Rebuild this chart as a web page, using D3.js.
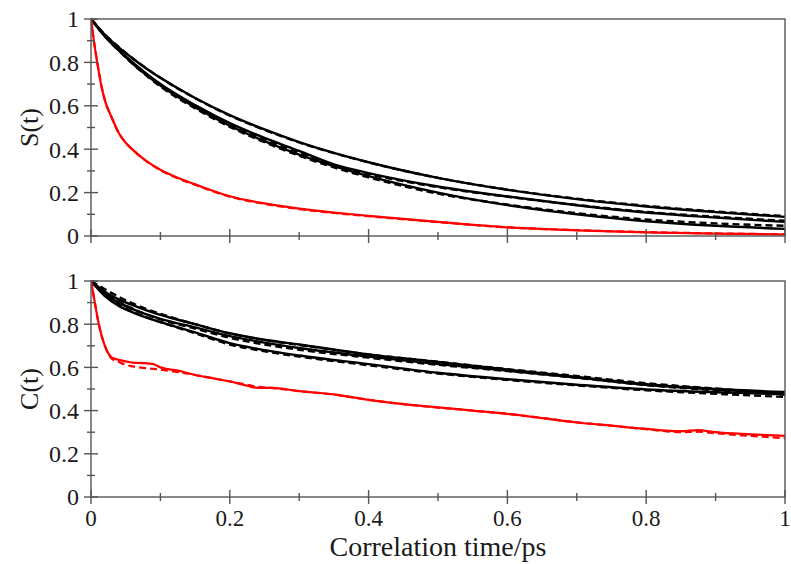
<!DOCTYPE html>
<html><head><meta charset="utf-8">
<script src="https://cdn.jsdelivr.net/npm/d3@7"></script>
<style>body{margin:0;background:#fff}svg{display:block}text{font-family:"Liberation Serif","DejaVu Serif",serif}</style></head>
<body>
<svg id="c" width="791" height="564"></svg>
<script>
// ---- tick data ----
const xMajor=[0,0.2,0.4,0.6,0.8,1];
const xMajorLabels=["0","0.2","0.4","0.6","0.8","1"];
const xMinor=[0.1,0.3,0.5,0.7,0.9];
const yMajor=[0,0.2,0.4,0.6,0.8,1];
const yMajorLabels=["0","0.2","0.4","0.6","0.8","1"];
const yMinor=[0.1,0.3,0.5,0.7,0.9];

// ---- S(t) panel ----
const tS=[0,0.02,0.04,0.06,0.08,0.1,0.15,0.2,0.25,0.3,0.35,0.4,0.5,0.6,0.7,0.8,0.9,1.0];
const sA =[1,0.927,0.869,0.818,0.771,0.729,0.636,0.557,0.491,0.433,0.383,0.340,0.268,0.213,0.170,0.136,0.110,0.088];
const sAd=[1,0.929,0.871,0.819,0.772,0.729,0.635,0.555,0.489,0.431,0.382,0.339,0.268,0.214,0.172,0.139,0.113,0.092];
const sB =[1,0.922,0.858,0.800,0.748,0.700,0.603,0.520,0.452,0.392,0.330,0.290,0.228,0.182,0.142,0.108,0.085,0.065];
const sBd=[1,0.923,0.857,0.798,0.745,0.696,0.597,0.512,0.444,0.385,0.324,0.285,0.225,0.181,0.143,0.111,0.089,0.070];
const sC =[1,0.920,0.855,0.795,0.742,0.693,0.593,0.508,0.437,0.375,0.322,0.276,0.200,0.142,0.100,0.068,0.047,0.033];
const sCd=[1,0.921,0.854,0.793,0.739,0.689,0.588,0.503,0.432,0.370,0.316,0.270,0.195,0.145,0.105,0.076,0.058,0.047];
const tSr=[0,0.005,0.01,0.015,0.02,0.03,0.04,0.05,0.06,0.08,0.1,0.125,0.15,0.2,0.25,0.3,0.35,0.4,0.5,0.6,0.7,0.8,0.9,1.0];
const sR =[1,0.88,0.78,0.69,0.625,0.545,0.475,0.43,0.398,0.345,0.305,0.268,0.238,0.183,0.15,0.126,0.108,0.093,0.065,0.04,0.026,0.017,0.011,0.007];
const sRd=[1,0.882,0.782,0.692,0.626,0.544,0.474,0.43,0.397,0.344,0.303,0.266,0.236,0.181,0.148,0.124,0.106,0.091,0.064,0.04,0.027,0.018,0.012,0.008];

// ---- C(t) panel ----
const tC=[0,0.02,0.04,0.06,0.08,0.1,0.15,0.2,0.25,0.3,0.4,0.5,0.6,0.7,0.8,0.9,1.0];
const cA =[1,0.95,0.915,0.888,0.864,0.843,0.8,0.758,0.728,0.706,0.66,0.625,0.59,0.556,0.522,0.5,0.486];
const cAd=[1,0.962,0.927,0.896,0.87,0.848,0.8,0.757,0.727,0.704,0.66,0.626,0.592,0.56,0.527,0.502,0.48];
const cB =[1,0.94,0.9,0.87,0.845,0.825,0.785,0.745,0.715,0.69,0.65,0.615,0.585,0.553,0.52,0.498,0.481];
const cBd=[1,0.945,0.905,0.872,0.845,0.822,0.78,0.737,0.706,0.682,0.645,0.612,0.583,0.552,0.518,0.494,0.474];
const cC =[1,0.93,0.885,0.855,0.83,0.81,0.762,0.712,0.68,0.655,0.615,0.575,0.545,0.52,0.498,0.485,0.476];
const cCd=[1,0.935,0.89,0.858,0.832,0.81,0.758,0.706,0.675,0.65,0.61,0.572,0.542,0.517,0.494,0.478,0.463];
const tCr=[0,0.005,0.01,0.015,0.02,0.025,0.03,0.04,0.05,0.06,0.075,0.09,0.1,0.125,0.15,0.175,0.2,0.225,0.24,0.26,0.3,0.35,0.4,0.45,0.5,0.55,0.6,0.65,0.7,0.75,0.8,0.85,0.875,0.9,0.95,1.0];
const cR =[1,0.91,0.82,0.75,0.7,0.665,0.645,0.635,0.628,0.622,0.62,0.615,0.6,0.585,0.565,0.55,0.535,0.515,0.505,0.505,0.49,0.475,0.45,0.43,0.415,0.4,0.385,0.365,0.345,0.33,0.315,0.305,0.31,0.3,0.29,0.283];
const cRd=[1,0.91,0.82,0.75,0.7,0.662,0.64,0.625,0.612,0.605,0.598,0.593,0.59,0.578,0.565,0.55,0.535,0.52,0.51,0.505,0.49,0.474,0.45,0.43,0.414,0.4,0.385,0.366,0.346,0.33,0.314,0.3,0.302,0.295,0.283,0.272];

const svg=d3.select("#c");
const left=91,right=785;
const x=d3.scaleLinear().domain([0,1]).range([left,right]);
const font="Liberation Serif";
const axisCol="#555";

const panels=[
  {top:19,bottom:236,label:"S(t)",showX:false,
   series:[
     {t:tS,v:sC,c:"#000",d:null},{t:tS,v:sCd,c:"#000",d:"7,4"},
     {t:tS,v:sB,c:"#000",d:null},{t:tS,v:sBd,c:"#000",d:"7,4"},
     {t:tS,v:sA,c:"#000",d:null},{t:tS,v:sAd,c:"#000",d:"7,4"},
     {t:tSr,v:sR,c:"#ff0000",d:null},{t:tSr,v:sRd,c:"#ff0000",d:"7,4"}]},
  {top:281,bottom:497,label:"C(t)",showX:true,
   series:[
     {t:tC,v:cC,c:"#000",d:null},{t:tC,v:cCd,c:"#000",d:"7,4"},
     {t:tC,v:cB,c:"#000",d:null},{t:tC,v:cBd,c:"#000",d:"7,4"},
     {t:tC,v:cA,c:"#000",d:null},{t:tC,v:cAd,c:"#000",d:"7,4"},
     {t:tCr,v:cR,c:"#ff0000",d:null},{t:tCr,v:cRd,c:"#ff0000",d:"7,4"}]}
];

panels.forEach(p=>{
  const y=d3.scaleLinear().domain([0,1]).range([p.bottom,p.top]);
  const g=svg.append("g");
  const line=d3.line().x(d=>x(d[0])).y(d=>y(d[1])).curve(d3.curveMonotoneX);
  const clipId="clip"+p.top;
  svg.append("clipPath").attr("id",clipId).append("rect")
    .attr("x",left).attr("y",p.top-2).attr("width",right-left).attr("height",p.bottom-p.top+2);
  const lg=g.append("g").attr("clip-path","url(#"+clipId+")");
  p.series.forEach(s=>{
    lg.append("path").attr("d",line(s.t.map((t,i)=>[t,s.v[i]])))
      .attr("fill","none").attr("stroke",s.c)
      .attr("stroke-width",s.c==="#000"?2.4:2.2)
      .attr("stroke-dasharray",s.d)
      .attr("stroke-linejoin","round");
  });
  g.append("rect").attr("x",left).attr("y",p.top).attr("width",right-left).attr("height",p.bottom-p.top)
    .attr("fill","none").attr("stroke",axisCol).attr("stroke-width",1.4);
  xMajor.forEach(v=>g.append("line").attr("x1",x(v)).attr("x2",x(v)).attr("y1",p.bottom-7).attr("y2",p.bottom+7)
    .attr("stroke",axisCol).attr("stroke-width",1.4));
  xMinor.forEach(v=>g.append("line").attr("x1",x(v)).attr("x2",x(v)).attr("y1",p.bottom-4).attr("y2",p.bottom+4)
    .attr("stroke",axisCol).attr("stroke-width",1.4));
  yMajor.forEach(v=>g.append("line").attr("x1",left-7).attr("x2",left+7).attr("y1",y(v)).attr("y2",y(v))
    .attr("stroke",axisCol).attr("stroke-width",1.4));
  yMinor.forEach(v=>g.append("line").attr("x1",left-4).attr("x2",left+4).attr("y1",y(v)).attr("y2",y(v))
    .attr("stroke",axisCol).attr("stroke-width",1.4));
  yMajor.forEach((v,i)=>g.append("text").attr("x",left-12).attr("y",y(v)).attr("dy","0.35em")
    .attr("text-anchor","end").attr("font-family",font).attr("font-size",24).attr("fill","#1a1a1a").text(yMajorLabels[i]));
  if(p.showX){
    xMajor.forEach((v,i)=>g.append("text").attr("x",x(v)).attr("y",p.bottom+29).attr("text-anchor","middle")
      .attr("font-family",font).attr("font-size",23).attr("fill","#1a1a1a").text(xMajorLabels[i]));
  }
  const cy=(p.top+p.bottom)/2;
  g.append("text").attr("transform",`translate(38,${cy}) rotate(-90)`).attr("text-anchor","middle")
    .attr("font-family",font).attr("font-size",26).attr("fill","#1a1a1a").text(p.label);
});
svg.append("text").attr("x",(left+right)/2).attr("y",556).attr("text-anchor","middle")
  .attr("font-family",font).attr("font-size",28).attr("fill","#1a1a1a").text("Correlation time/ps");
</script>
</body></html>
